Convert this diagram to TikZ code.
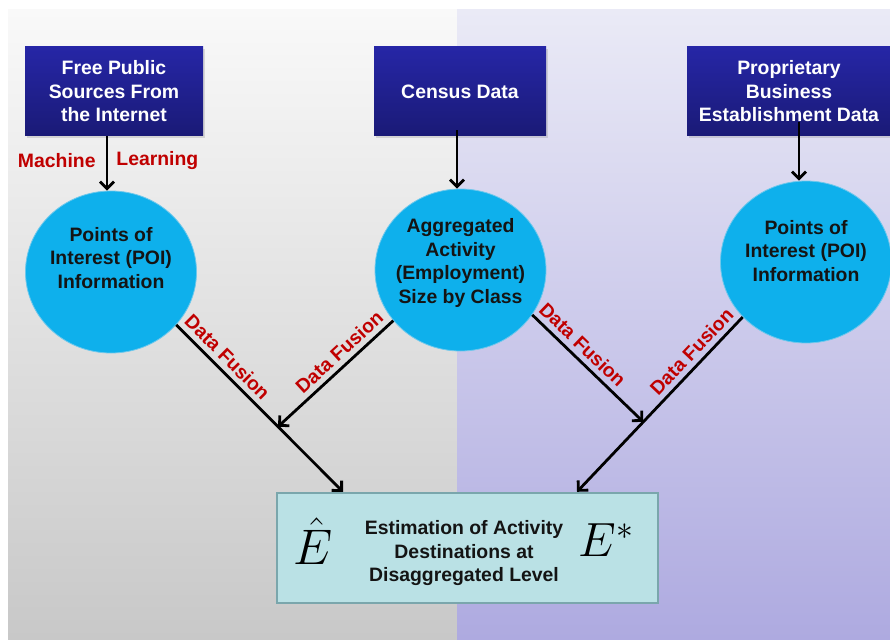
\RequirePackage{fix-cm}
\documentclass[tikz,border=0pt]{standalone}
\usepackage{fontspec}
\setmainfont{Liberation Sans}
\usetikzlibrary{shapes.geometric,arrows.meta,shadows}
\definecolor{boxtop}{RGB}{38,38,166}
\definecolor{boxbot}{RGB}{26,26,118}
\definecolor{fusred}{RGB}{192,0,0}
\definecolor{poicyan}{RGB}{14,176,236}
\definecolor{poiedge}{RGB}{110,200,236}
\definecolor{estfill}{RGB}{186,225,229}
\definecolor{estedge}{RGB}{122,166,172}
\definecolor{lgtop}{RGB}{249,249,249}
\definecolor{lgbot}{RGB}{200,200,200}
\definecolor{rgtop}{RGB}{234,234,246}
\definecolor{rgbot}{RGB}{174,170,224}
\begin{document}
\begin{tikzpicture}[x=1pt,y=-1pt,
  font=\fontsize{19.4}{23.5}\selectfont\bfseries,
  srcbox/.style={rectangle, minimum height=89pt, inner sep=0pt, align=center,
    text=white, top color=boxtop, bottom color=boxbot,
    drop shadow={shadow xshift=1.5pt, shadow yshift=-2pt, opacity=0.25}},
  poi/.style={ellipse, minimum width=171pt, minimum height=162pt, inner sep=0pt,
    fill=poicyan, draw=poiedge, line width=0.8pt},
  ctext/.style={align=center, text=black!92},
  estbox/.style={rectangle, minimum width=381pt, minimum height=110pt,
    fill=estfill, draw=estedge, line width=2.4pt},
  arr/.style={draw=black, line width=2.8pt, -{Straight Barb[length=7pt,width=14pt]}},
  fus/.style={text=fusred, sloped, above=3pt, inner sep=2pt},
  redlab/.style={text=fusred, inner sep=0pt}
]
\useasboundingbox (0,0) rectangle (890,639);
% background panels
\shade[top color=lgtop, bottom color=lgbot] (8,10) rectangle (457,639);
\shade[top color=rgtop, bottom color=rgbot] (457,10) rectangle (890,639);

% source boxes
\node[srcbox, minimum width=178pt] (b1) at (114,91.5) {Free Public\\Sources From\\the Internet};
\node[srcbox, minimum width=172pt] (b2) at (460,91.5) {Census Data};
\node[srcbox, minimum width=204pt] (b3) at (789,91.5) {Proprietary\\Business\\Establishment Data};

% circles
\node[poi] (c1) at (111,272) {};
\node[ctext] (t1) at (111,258) {Points of\\Interest (POI)\\Information};
\node[poi] (c2) at (460.5,270) {};
\node[ctext] (t2) at (460.5,263) {Aggregated\\Activity\\(Employment)\\Size by Class};
\node[poi] (c3) at (806,262) {};
\node[ctext] (t3) at (806,251) {Points of\\Interest (POI)\\Information};

% estimation box
\node[estbox] (e) at (467.5,548) {};
\node[ctext] (et) at (464,553.5) {Estimation of Activity\\Destinations at\\Disaggregated Level};
\node (eh) at (313,541) {\fontsize{50}{52}\selectfont$\hat{E}$};
\node (es) at (606,540) {\fontsize{48}{50}\selectfont$E^{*}$};

% vertical arrows
\draw[arr] ([xshift=-7pt]b1.south) -- node[redlab, pos=0.44, left=10pt] (ml1) {Machine}
  node[redlab, pos=0.44, right=8pt] (ml2) {Learning} ([xshift=-4pt]c1.north);
\draw[arr] ([xshift=-3pt,yshift=6pt]b2.south) -- ([xshift=-3.5pt]c2.north);
\draw[arr] ([xshift=10pt,yshift=14pt]b3.south) -- ([xshift=-7pt]c3.north);

% data fusion connectors
\path (c1.-39) -- ([xshift=-124.5pt]e.north) coordinate[pos=0.61] (m1);
\path (c3.221) -- ([xshift=109.5pt]e.north) coordinate[pos=0.6] (m2);
\draw[arr] (c1.-39) -- node[fus, pos=0.25] (f1) {Data Fusion} ([xshift=-124.5pt]e.north);
\draw[arr] (c2.217) -- node[fus, pos=0.39] (f2) {Data Fusion} (m1);
\draw[arr] (c2.-32) -- node[fus, pos=0.37] (f3) {Data Fusion} (m2);
\draw[arr] (c3.221) -- node[fus, pos=0.25] (f4) {Data Fusion} ([xshift=109.5pt]e.north);
\end{tikzpicture}
\end{document}
